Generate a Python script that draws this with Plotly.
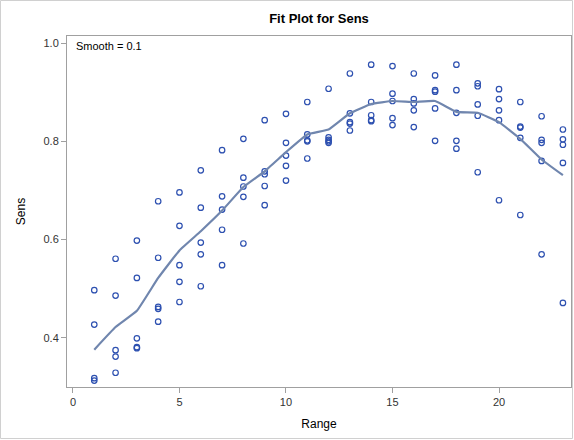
import plotly.graph_objects as go

# ---- data ----
range_x = (
    [1]*4 + [2]*5 + [3]*5 + [4]*5 + [5]*5 + [6]*5 + [7]*5 + [8]*5 + [9]*5 + [10]*5 +
    [11]*5 + [12]*5 + [13]*5 + [14]*5 + [15]*5 + [16]*5 + [17]*5 + [18]*5 + [19]*5 +
    [20]*5 + [21]*5 + [22]*5 + [23]*5
)
sens_y = [
    0.497, 0.427, 0.318, 0.313,
    0.561, 0.486, 0.375, 0.362, 0.329,
    0.598, 0.522, 0.399, 0.381, 0.379,
    0.678, 0.563, 0.463, 0.459, 0.433,
    0.696, 0.628, 0.548, 0.514, 0.473,
    0.741, 0.665, 0.594, 0.570, 0.505,
    0.782, 0.688, 0.661, 0.620, 0.548,
    0.805, 0.726, 0.708, 0.687, 0.592,
    0.843, 0.739, 0.733, 0.709, 0.670,
    0.856, 0.797, 0.771, 0.750, 0.720,
    0.880, 0.814, 0.802, 0.800, 0.765,
    0.907, 0.808, 0.803, 0.800, 0.797,
    0.938, 0.857, 0.839, 0.836, 0.822,
    0.956, 0.880, 0.853, 0.843, 0.841,
    0.953, 0.897, 0.882, 0.847, 0.833,
    0.938, 0.886, 0.877, 0.863, 0.829,
    0.934, 0.904, 0.901, 0.867, 0.801,
    0.956, 0.904, 0.858, 0.801, 0.785,
    0.918, 0.912, 0.875, 0.852, 0.737,
    0.906, 0.886, 0.863, 0.843, 0.680,
    0.880, 0.830, 0.828, 0.807, 0.650,
    0.851, 0.803, 0.797, 0.760, 0.570,
    0.824, 0.804, 0.793, 0.756, 0.471,
]

fit_x = [1, 2, 3, 4, 5, 6, 7, 8, 9, 10, 11, 12, 13, 14, 15, 16, 17, 18, 19, 20, 21, 22, 23]
fit_y = [0.376, 0.422, 0.455, 0.522, 0.578, 0.617, 0.659, 0.707, 0.739, 0.778, 0.814,
         0.824, 0.857, 0.876, 0.882, 0.880, 0.882, 0.860, 0.858, 0.839, 0.805, 0.763, 0.731]

x_ticks = [0, 5, 10, 15, 20]
y_ticks = [0.4, 0.6, 0.8, 1.0]

FONT = "Liberation Sans, Arial, sans-serif"

fig = go.Figure()
fig.add_trace(go.Scatter(
    x=range_x, y=sens_y, mode="markers",
    marker=dict(symbol="circle-open", size=5.5, color="#2D50B0", line=dict(width=1.2)),
    showlegend=False, hoverinfo="x+y",
))
fig.add_trace(go.Scatter(
    x=fit_x, y=fit_y, mode="lines",
    line=dict(color="#7086AE", width=2.2, shape="spline", smoothing=0.3),
    showlegend=False,
))

L, R, T, B = 67, 3, 36, 53
pw = 574 - L - R
ph = 440 - T - B

fig.update_layout(
    width=574, height=440,
    margin=dict(l=L, r=R, t=T, b=B, pad=0),
    paper_bgcolor="white", plot_bgcolor="white",
    font=dict(family=FONT, size=11, color="#333333"),
    title=dict(text="<b>Fit Plot for Sens</b>", x=(L + pw / 2) / 574, xanchor="center",
               y=1 - 18 / 440, yanchor="middle", font=dict(size=13, color="#000000")),
    xaxis=dict(range=[-0.28, 23.38], tickvals=x_ticks, ticks="outside", ticklen=5,
               tickcolor="#A0A0A0", showgrid=False, zeroline=False,
               showline=True, linecolor="#A0A0A0", linewidth=1, mirror=True,
               title=dict(text="Range", font=dict(size=12, color="#000000"), standoff=12),
               tickfont=dict(size=11, color="#333333")),
    yaxis=dict(range=[0.3, 1.0143], tickvals=y_ticks, tickformat=".1f", ticks="outside",
               ticklen=5, tickcolor="#A0A0A0", showgrid=False, zeroline=False,
               showline=True, linecolor="#A0A0A0", linewidth=1, mirror=True,
               title=dict(text="Sens", font=dict(size=12, color="#000000"), standoff=15),
               tickfont=dict(size=11, color="#333333")),
    annotations=[dict(text="Smooth = 0.1", xref="paper", yref="paper",
                      x=7 / pw, y=1 - 10 / ph, xanchor="left", yanchor="middle",
                      showarrow=False, font=dict(size=11, color="#000000"))],
    shapes=[dict(type="rect", xref="paper", yref="paper",
                 x0=-(L - 0.5) / pw, x1=1 + (R - 1.5) / pw,
                 y0=-(B - 1.5) / ph, y1=1 + (T - 0.5) / ph,
                 line=dict(color="#D0D0D0", width=1))],
)

fig.write_html("out.html")
